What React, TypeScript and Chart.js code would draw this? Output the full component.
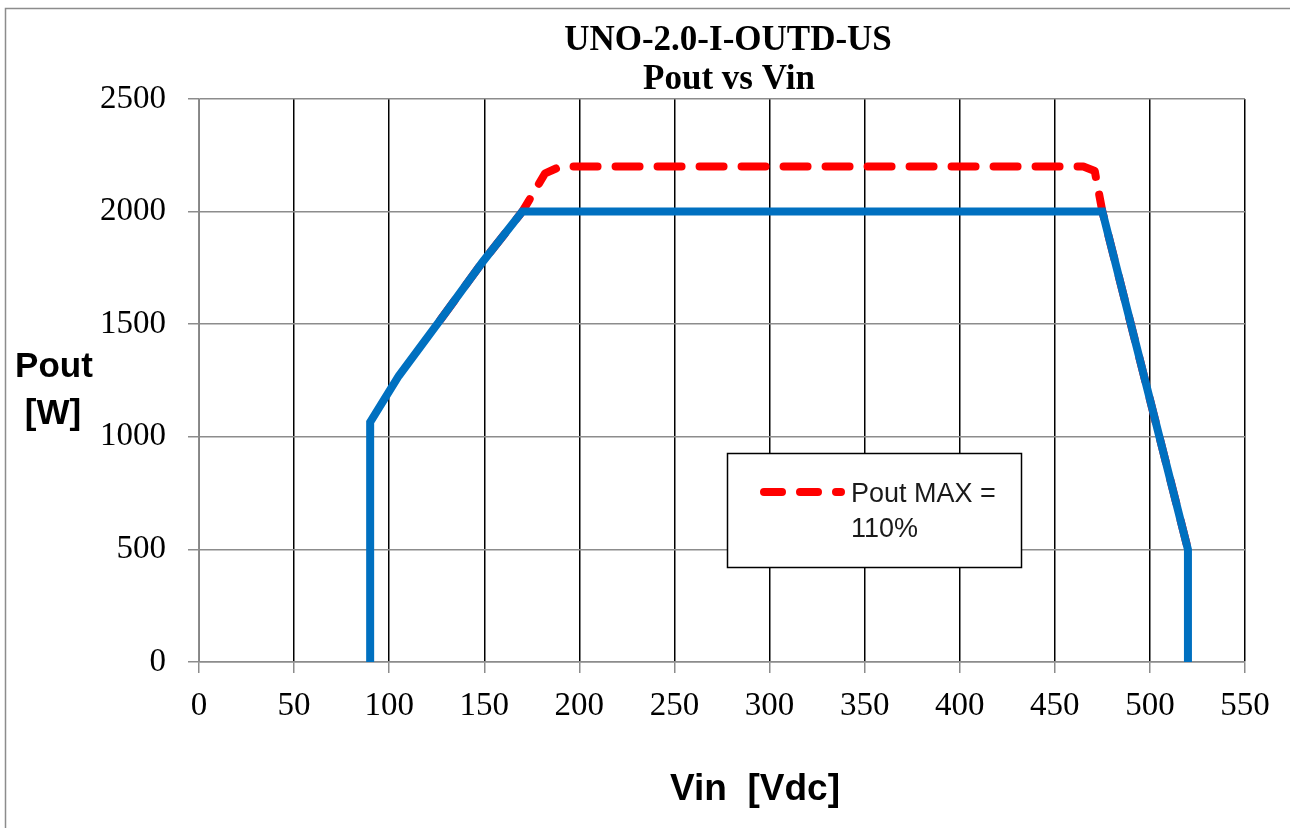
import React, { useEffect, useRef } from "react";
import { Chart, registerables } from "chart.js";

Chart.register(...registerables);

const titleLines = ["UNO-2.0-I-OUTD-US", "Pout vs Vin"];
const yTitleLines = ["Pout", "[W]"];
const xTitle = "Vin  [Vdc]";
const legendLines = ["Pout MAX =", "110%"];

const xTicks = [0, 50, 100, 150, 200, 250, 300, 350, 400, 450, 500, 550];
const yTicks = [0, 500, 1000, 1500, 2000, 2500];

const blueVin = [90, 90, 105, 127, 149, 170, 475, 520, 520];
const bluePout = [0, 1065, 1270, 1520, 1775, 2000, 2000, 500, 0];

const redVin = [127, 149, 170, 182, 190, 465, 471, 475, 520];
const redPout = [1520, 1775, 2000, 2170, 2200, 2200, 2180, 2000, 500];

const BLUE = "#0070C0";
const RED = "#FF0000";

const extras = {
  id: "extras",
  afterDatasetsDraw(chart: any) {
    const ctx = chart.ctx;
    ctx.save();
    // outer frame (top & left)
    ctx.strokeStyle = "#8c8c8c";
    ctx.lineWidth = 1.5;
    ctx.beginPath();
    ctx.moveTo(5.5, 828);
    ctx.lineTo(5.5, 8.5);
    ctx.lineTo(1290, 8.5);
    ctx.stroke();

    // title
    ctx.fillStyle = "#000";
    ctx.textAlign = "center";
    ctx.textBaseline = "alphabetic";
    ctx.font = "bold 35px 'Liberation Serif', 'Times New Roman', serif";
    ctx.fillText(titleLines[0], 728, 50);
    ctx.fillText(titleLines[1], 729, 89);

    // y title
    ctx.font = "bold 35px 'Liberation Sans', Arial, sans-serif";
    ctx.fillText(yTitleLines[0], 54, 377);
    ctx.fillText(yTitleLines[1], 53, 424);

    // x title
    ctx.font = "bold 37px 'Liberation Sans', Arial, sans-serif";
    ctx.fillText(xTitle, 755, 800);

    // legend box
    const bx = 727, by = 453, bw = 294, bh = 114;
    ctx.fillStyle = "#fff";
    ctx.fillRect(bx, by, bw, bh);
    ctx.strokeStyle = "#000";
    ctx.lineWidth = 1.5;
    ctx.strokeRect(bx + 0.5, by + 0.5, bw, bh);
    ctx.strokeStyle = RED;
    ctx.lineWidth = 8;
    ctx.lineCap = "round";
    ctx.setLineDash([18, 18]);
    ctx.beginPath();
    ctx.moveTo(764, 492);
    ctx.lineTo(841, 492);
    ctx.stroke();
    ctx.setLineDash([]);
    ctx.fillStyle = "#1a1a1a";
    ctx.textAlign = "left";
    ctx.font = "27px 'Liberation Sans', Arial, sans-serif";
    ctx.fillText(legendLines[0], 851, 502);
    ctx.fillText(legendLines[1], 851, 537);
    ctx.restore();
  },
};

export default function App() {
  const ref = useRef<HTMLCanvasElement | null>(null);

  useEffect(() => {
    if (!ref.current) return;
    const chart = new Chart(ref.current, {
      type: "scatter",
      data: {
        datasets: [
          {
            label: "Pout",
            data: blueVin.map((x, i) => ({ x, y: bluePout[i] })),
            showLine: true,
            borderColor: BLUE,
            borderWidth: 8,
            borderCapStyle: "butt",
            borderJoinStyle: "miter",
            pointRadius: 0,
            fill: false,
            order: 0,
          },
          {
            label: "Pout MAX = 110%",
            data: redVin.map((x, i) => ({ x, y: redPout[i] })),
            showLine: true,
            borderColor: RED,
            borderWidth: 8,
            borderDash: [24, 18],
            borderCapStyle: "round",
            borderJoinStyle: "round",
            pointRadius: 0,
            fill: false,
            order: 1,
          },
        ],
      },
      options: {
        responsive: false,
        animation: false,
        devicePixelRatio: 1,
        layout: { padding: { top: 99, left: 0, right: 45, bottom: 0 } },
        plugins: {
          legend: { display: false },
          title: { display: false },
          tooltip: { enabled: false },
        },
        scales: {
          x: {
            type: "linear",
            min: 0,
            max: 550,
            afterBuildTicks: (s: any) => {
              s.ticks = xTicks.map((v) => ({ value: v }));
            },
            afterFit: (s: any) => {
              s.height = 166;
            },
            ticks: {
              color: "#000",
              padding: 14,
              callback: (v: any) => String(v),
              font: { family: "'Liberation Serif', 'Times New Roman', serif", size: 33 },
            },
            grid: {
              color: "#000",
              lineWidth: 1.5,
              tickColor: "#8c8c8c",
              tickLength: 11,
            },
            border: { color: "#8c8c8c", width: 1.5 },
          },
          y: {
            type: "linear",
            min: 0,
            max: 2500,
            afterBuildTicks: (s: any) => {
              s.ticks = yTicks.map((v) => ({ value: v }));
            },
            afterFit: (s: any) => {
              s.width = 199;
            },
            ticks: {
              color: "#000",
              padding: 22,
              callback: (v: any) => String(v),
              font: { family: "'Liberation Serif', 'Times New Roman', serif", size: 33 },
            },
            grid: {
              color: "#8c8c8c",
              lineWidth: 1.5,
              tickColor: "#8c8c8c",
              tickLength: 11,
            },
            border: { color: "#8c8c8c", width: 1.5 },
          },
        },
      },
      plugins: [extras],
    });
    return () => chart.destroy();
  }, []);

  return (
    <div style={{ position: "fixed", left: 0, top: 0, width: 1290, height: 828, background: "#fff" }}>
      <canvas ref={ref} width={1290} height={828} style={{ width: 1290, height: 828, display: "block" }} />
    </div>
  );
}
